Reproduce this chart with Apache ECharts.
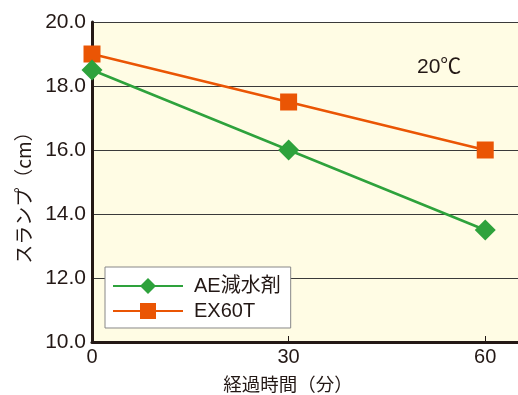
<!DOCTYPE html>
<html>
<head>
<meta charset="utf-8">
<script src="https://cdn.jsdelivr.net/npm/echarts@6/dist/echarts.min.js"></script>
<style>
html, body { margin: 0; padding: 0; background: #fff; }
#main { width: 518px; height: 395px; }
</style>
</head>
<body>
<div id="main"></div>
<script>
// データ
var times = [0, 30, 60];
var aeValues = [18.5, 16.0, 13.5];
var exValues = [19.0, 17.5, 16.0];
var seriesNames = ['AE減水剤', 'EX60T'];

function pairs(xs, ys) {
	return xs.map(function (x, i) { return [x, ys[i]]; });
}

var chart = echarts.init(document.getElementById('main'));
var font = '"Liberation Sans", Arial, "Noto Sans CJK JP", sans-serif';
var ink = '#231815';

chart.setOption({
	animation: false,
	textStyle: { fontFamily: font },
	grid: {
		left: 92, top: 22, right: 0, bottom: 53,
		outerBoundsMode: 'none',
		show: true, backgroundColor: '#fffce4', borderWidth: 0
	},
	legend: {
		orient: 'vertical',
		left: 105, top: 267,
		itemWidth: 70, itemHeight: 20, itemGap: 5,
		padding: [9, 10, 7, 7],
		backgroundColor: '#fff',
		borderColor: '#888', borderWidth: 1,
		textStyle: { fontSize: 20, color: ink, fontFamily: font, padding: [0, 0, 0, 6] },
		data: seriesNames
	},
	graphic: [{
		type: 'text', left: 417, top: 57,
		style: { text: '20℃', fontSize: 21, fill: ink, fontFamily: font }
	}, {
		// 縦軸タイトル
		type: 'text', x: 24, y: 193, rotation: Math.PI / 2,
		style: {
			text: 'スランプ（cm）', fontSize: 19, fill: ink,
			fontFamily: '"Noto Sans CJK JP", sans-serif',
			align: 'center', verticalAlign: 'middle'
		}
	}, {
		// 横軸タイトル
		type: 'text', x: 288, y: 384,
		style: {
			text: '経過時間（分）', fontSize: 18.5, fill: ink,
			fontFamily: '"Noto Sans CJK JP", sans-serif',
			align: 'center', verticalAlign: 'middle'
		}
	}],
	xAxis: {
		type: 'value', min: 0, max: 65, interval: 30,
		axisLine: { lineStyle: { color: ink, width: 3 } },
		axisTick: { inside: true, length: 6, lineStyle: { color: ink } },
		axisLabel: {
			fontSize: 20, color: ink, margin: 5,
			formatter: function (v) { return v <= 60 ? v : ''; }
		},
		splitLine: { show: false }
	},
	yAxis: {
		type: 'value', min: 10, max: 20, interval: 2,
		axisLine: { show: true, lineStyle: { color: ink, width: 3 } },
		axisTick: { show: false },
		axisLabel: {
			fontSize: 21, color: ink, margin: 6,
			formatter: function (v) { return v.toFixed(1); }
		},
		splitLine: { show: true, lineStyle: { color: '#3a3a3a', width: 1.2 } }
	},
	series: [{
		name: seriesNames[0],
		type: 'line',
		data: pairs(times, aeValues),
		symbol: 'diamond', symbolSize: 21,
		lineStyle: { color: '#2ea23c', width: 2.5 },
		itemStyle: { color: '#2ea23c' },
		z: 3
	}, {
		name: seriesNames[1],
		type: 'line',
		data: pairs(times, exValues),
		symbol: 'rect', symbolSize: 17,
		lineStyle: { color: '#ea5504', width: 2.5 },
		itemStyle: { color: '#ea5504' },
		z: 2
	}]
});

window.onresize = function () {
	chart.resize();
};
</script>
</body>
</html>
